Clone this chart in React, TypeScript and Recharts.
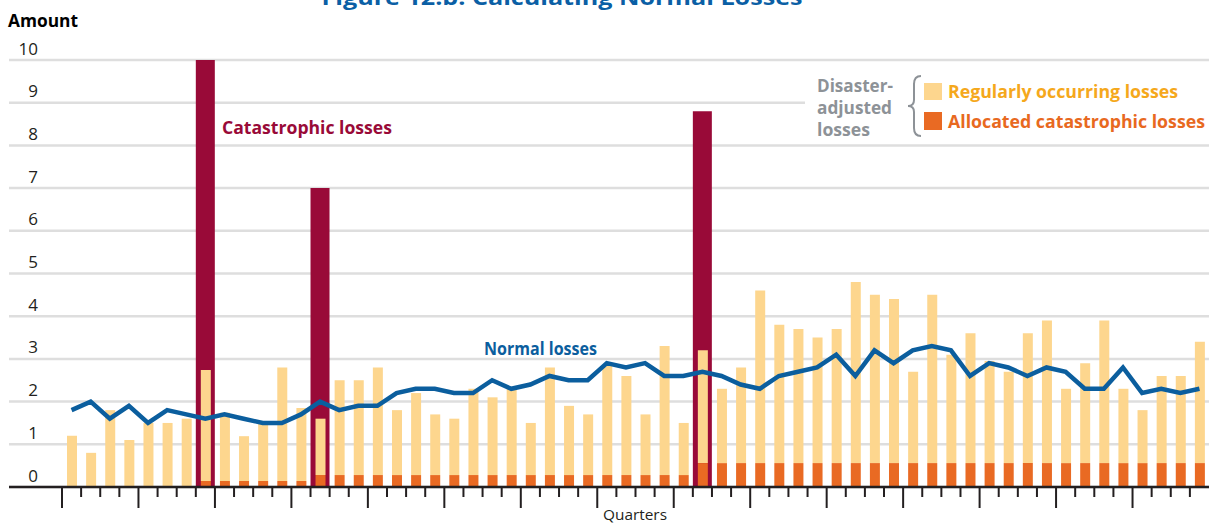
import React from 'react';
import { ComposedChart, Bar, Line, XAxis, YAxis, CartesianGrid } from 'recharts';

// 60 quarters (15 years)
const quarters: string[] = Array.from({ length: 60 }, (_, i) => `Y${Math.floor(i / 4) + 1}Q${(i % 4) + 1}`);

// Regularly occurring losses (light yellow segment)
const regularLosses = [
  1.2, 0.8, 1.8, 1.1, 1.5, 1.5, 1.6, 2.6, 1.6, 1.05,
  1.36, 2.66, 1.71, 1.32, 2.22, 2.22, 2.52, 1.52, 1.92, 1.42,
  1.32, 2.02, 1.82, 2.02, 1.22, 2.52, 1.62, 1.42, 2.57, 2.32,
  1.42, 3.02, 1.22, 2.64, 1.74, 2.24, 4.04, 3.24, 3.14, 2.94,
  3.14, 4.24, 3.94, 3.84, 2.14, 3.94, 2.54, 3.04, 2.39, 2.14,
  3.04, 3.34, 1.74, 2.34, 3.34, 1.74, 1.24, 2.04, 2.04, 2.84,
];

// Allocated catastrophic losses (orange segment)
const allocatedCatLosses = [
  0, 0, 0, 0, 0, 0, 0, 0.14, 0.14, 0.14,
  0.14, 0.14, 0.14, 0.28, 0.28, 0.28, 0.28, 0.28, 0.28, 0.28,
  0.28, 0.28, 0.28, 0.28, 0.28, 0.28, 0.28, 0.28, 0.28, 0.28,
  0.28, 0.28, 0.28, 0.56, 0.56, 0.56, 0.56, 0.56, 0.56, 0.56,
  0.56, 0.56, 0.56, 0.56, 0.56, 0.56, 0.56, 0.56, 0.56, 0.56,
  0.56, 0.56, 0.56, 0.56, 0.56, 0.56, 0.56, 0.56, 0.56, 0.56,
];

// Catastrophic losses (dark red, background)
const catastrophicLosses: (number | null)[] = [
  null, null, null, null, null, null, null, 10, null, null,
  null, null, null, 7, null, null, null, null, null, null,
  null, null, null, null, null, null, null, null, null, null,
  null, null, null, 8.8, null, null, null, null, null, null,
  null, null, null, null, null, null, null, null, null, null,
  null, null, null, null, null, null, null, null, null, null,
];

// Normal losses (blue line)
const normalLosses = [
  1.8, 2.0, 1.6, 1.9, 1.5, 1.8, 1.7, 1.6, 1.7, 1.6,
  1.5, 1.5, 1.7, 2.0, 1.8, 1.9, 1.9, 2.2, 2.3, 2.3,
  2.2, 2.2, 2.5, 2.3, 2.4, 2.6, 2.5, 2.5, 2.9, 2.8,
  2.9, 2.6, 2.6, 2.7, 2.6, 2.4, 2.3, 2.6, 2.7, 2.8,
  3.1, 2.6, 3.2, 2.9, 3.2, 3.3, 3.2, 2.6, 2.9, 2.8,
  2.6, 2.8, 2.7, 2.3, 2.3, 2.8, 2.2, 2.3, 2.2, 2.3,
];

const yTicks = [0, 1, 2, 3, 4, 5, 6, 7, 8, 9, 10];

const data = quarters.map((q, i) => ({
  q,
  regular: regularLosses[i],
  allocated: allocatedCatLosses[i],
  cat: catastrophicLosses[i],
  normal: normalLosses[i],
}));

// layout constants
const CHART_W = 1209;
const CHART_H = 525;
const MARGIN = { top: 60, right: 0, left: 8, bottom: 0 };
const Y_AXIS_W = 1;
const PAD_LEFT = 53;
const HALF_BAND = (CHART_W - MARGIN.left - Y_AXIS_W - MARGIN.right - PAD_LEFT) / quarters.length / 2;

const FONT = '"Open Sans", "DejaVu Sans", sans-serif';
const C_YELLOW = '#FDD68E';
const C_ORANGE = '#E96A23';
const C_RED = '#990A38';
const C_BLUE = '#0B5E9E';
const C_GREY = '#8D9297';
const C_AXIS = '#231F20';

// tick marks sit on the boundaries between quarters; longer mark at the start of each year
const renderXTick = (props: any) => {
  const { x, y, index } = props;
  const major = index % 4 === 0;
  const bx = x - HALF_BAND;
  return (
    <line x1={bx} x2={bx} y1={y} y2={y + (major ? 21 : 10)} stroke={C_AXIS} strokeWidth={2} />
  );
};

const renderYTick = (props: any) => {
  const { y, payload } = props;
  return (
    <text x={38} y={y - 5.5} textAnchor="end" fontFamily={FONT} fontSize={17} fill={C_AXIS}>
      {payload.value}
    </text>
  );
};

export default function App() {
  return (
    <div style={{ position: 'fixed', left: 0, top: 0, width: CHART_W, height: CHART_H, overflow: 'hidden', background: '#fff' }}>
      <ComposedChart width={CHART_W} height={CHART_H} data={data} margin={MARGIN}>
        <CartesianGrid xAxisId="main" yAxisId="y" vertical={false} stroke="#DEDEDE" strokeWidth={2.5} />
        <XAxis xAxisId="bg" dataKey="q" type="category" hide height={0} padding={{ left: PAD_LEFT, right: 0 }} />
        <XAxis
          xAxisId="main"
          dataKey="q"
          type="category"
          padding={{ left: PAD_LEFT, right: 0 }}
          height={38}
          interval={0}
          axisLine={{ stroke: C_AXIS, strokeWidth: 2.5 }}
          tickLine={false}
          tickSize={0}
          tickMargin={0}
          tick={renderXTick}
        />
        <YAxis
          yAxisId="y"
          domain={[0, 10]}
          ticks={yTicks}
          interval={0}
          width={Y_AXIS_W}
          axisLine={false}
          tickLine={false}
          tick={renderYTick}
        />
        <Bar xAxisId="bg" yAxisId="y" dataKey="cat" fill={C_RED} barSize={19} isAnimationActive={false} />
        <Bar xAxisId="main" yAxisId="y" dataKey="allocated" stackId="a" fill={C_ORANGE} barSize={10} isAnimationActive={false} />
        <Bar xAxisId="main" yAxisId="y" dataKey="regular" stackId="a" fill={C_YELLOW} barSize={10} isAnimationActive={false} />
        <Line
          xAxisId="main"
          yAxisId="y"
          dataKey="normal"
          type="linear"
          stroke={C_BLUE}
          strokeWidth={4.5}
          dot={false}
          isAnimationActive={false}
        />
      </ComposedChart>
      <svg
        width={CHART_W}
        height={CHART_H}
        style={{ position: 'absolute', left: 0, top: 0, pointerEvents: 'none' }}
        fontFamily={FONT}
      >
        <text x={562} y={5} textAnchor="middle" fontSize={22} fontWeight="bold" fill="#0B5FA5" textLength={481} lengthAdjust="spacingAndGlyphs">
          Figure 12.b: Calculating Normal Losses
        </text>
        <text x={8} y={27} fontSize={17} fontWeight="bold" fill="#000" textLength={70} lengthAdjust="spacingAndGlyphs">
          Amount
        </text>
        <text x={222} y={134} fontSize={17} fontWeight="bold" fill={C_RED} textLength={170} lengthAdjust="spacingAndGlyphs">
          Catastrophic losses
        </text>
        <text x={484} y={355} fontSize={17} fontWeight="bold" fill={C_BLUE} textLength={113} lengthAdjust="spacingAndGlyphs">
          Normal losses
        </text>
        <text x={603} y={520} fontSize={14} fill={C_AXIS} textLength={64} lengthAdjust="spacingAndGlyphs">
          Quarters
        </text>
        <rect x={805} y={64} width={404} height={78} fill="#fff" />
        <text x={817} y={91.5} fontSize={17} fontWeight="bold" fill={C_GREY} textLength={76} lengthAdjust="spacingAndGlyphs">
          Disaster-
        </text>
        <text x={817} y={114} fontSize={17} fontWeight="bold" fill={C_GREY} textLength={75} lengthAdjust="spacingAndGlyphs">
          adjusted
        </text>
        <text x={817} y={136} fontSize={17} fontWeight="bold" fill={C_GREY} textLength={53} lengthAdjust="spacingAndGlyphs">
          losses
        </text>
        <path
          d="M 921 76 Q 914 76 914 84 L 914 100 Q 914 106 908 106 Q 914 106 914 112 L 914 128 Q 914 136 921 136"
          fill="none"
          stroke={C_GREY}
          strokeWidth={2}
        />
        <rect x={924} y={83} width={18} height={17} fill={C_YELLOW} />
        <rect x={924} y={112} width={18} height={18} fill={C_ORANGE} />
        <text x={948} y={98} fontSize={17} fontWeight="bold" fill="#F5A81C" textLength={230} lengthAdjust="spacingAndGlyphs">
          Regularly occurring losses
        </text>
        <text x={948} y={128} fontSize={17} fontWeight="bold" fill="#E8691F" textLength={257} lengthAdjust="spacingAndGlyphs">
          Allocated catastrophic losses
        </text>
      </svg>
    </div>
  );
}
